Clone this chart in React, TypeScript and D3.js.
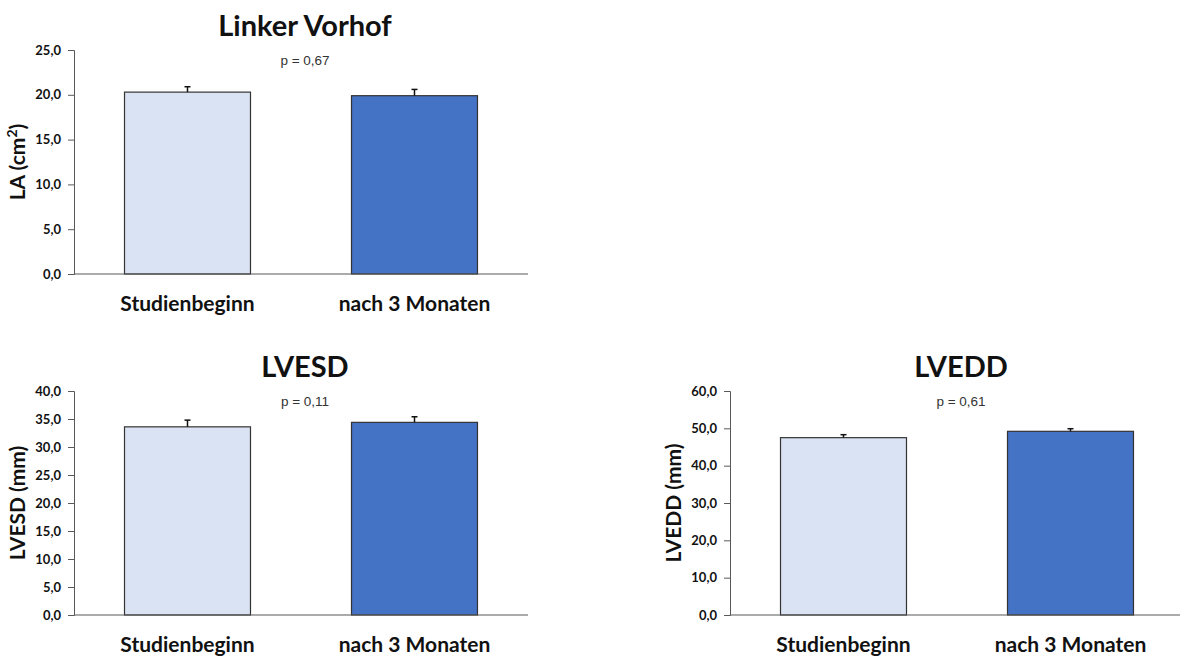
import React, { useEffect, useRef } from 'react'
import * as d3 from 'd3'

// Categories shared by all three panels
const categories = ['Studienbeginn', 'nach 3 Monaten']

// Linker Vorhof (LA)
const laValues = [20.3, 19.9]
const laErrors = [0.6, 0.7]
const laTicks = [0, 5, 10, 15, 20, 25]

// LVESD
const lvesdValues = [33.6, 34.4]
const lvesdErrors = [1.2, 1.0]
const lvesdTicks = [0, 5, 10, 15, 20, 25, 30, 35, 40]

// LVEDD
const lveddValues = [47.5, 49.2]
const lveddErrors = [0.8, 0.7]
const lveddTicks = [0, 10, 20, 30, 40, 50, 60]

const barColors = ['#DAE3F3', '#4472C4']
const font = 'Lato, "Open Sans", sans-serif'

type Panel = {
  title: string
  yLabel: string
  ySup?: string
  yTail?: string
  pText: string
  values: number[]
  errors: number[]
  ticks: number[]
  left: number
  top: number
}

const panels: Panel[] = [
  { title: 'Linker Vorhof', yLabel: 'LA (cm', ySup: '2', yTail: ')', pText: 'p = 0,67', values: laValues, errors: laErrors, ticks: laTicks, left: 74, top: 50 },
  { title: 'LVESD', yLabel: 'LVESD (mm)', pText: 'p = 0,11', values: lvesdValues, errors: lvesdErrors, ticks: lvesdTicks, left: 74, top: 391 },
  { title: 'LVEDD', yLabel: 'LVEDD (mm)', pText: 'p = 0,61', values: lveddValues, errors: lveddErrors, ticks: lveddTicks, left: 730, top: 391 },
]

const plotW = 454
const plotH = 224

const fmt = (v: number) => v.toFixed(1).replace('.', ',')

const App: React.FC = () => {
  const svgRef = useRef<SVGSVGElement | null>(null)

  useEffect(() => {
    const svg = d3.select(svgRef.current)
    svg.selectAll('*').remove()

    panels.forEach((p) => {
      const g = svg.append('g').attr('transform', `translate(${p.left},${p.top})`)

      const x = d3
        .scaleBand()
        .domain(categories)
        .range([0, plotW])
        .paddingInner(0.445)
        .paddingOuter(0.2225)

      const y = d3
        .scaleLinear()
        .domain([0, p.ticks[p.ticks.length - 1]])
        .range([plotH, 0])

      // y axis
      const yAxis = g
        .append('g')
        .call(d3.axisLeft(y).tickValues(p.ticks).tickFormat((d) => fmt(d as number)).tickSize(6).tickSizeOuter(6))
      yAxis.select('.domain').attr('stroke', '#595959')
      yAxis.selectAll('.tick line').attr('stroke', '#595959')
      yAxis
        .selectAll('.tick text')
        .attr('font-family', font)
        .attr('font-weight', 700)
        .attr('font-size', 13)
        .attr('fill', '#111')
        .attr('x', -13)

      // bars
      g.selectAll('.bar')
        .data(p.values)
        .enter()
        .append('rect')
        .attr('x', (_, i) => x(categories[i])!)
        .attr('y', (d) => y(d))
        .attr('width', x.bandwidth())
        .attr('height', (d) => plotH - y(d))
        .attr('fill', (_, i) => barColors[i])
        .attr('stroke', '#333')
        .attr('stroke-width', 1.2)

      // error bars (upper only)
      p.values.forEach((v, i) => {
        const cx = x(categories[i])! + x.bandwidth() / 2
        const yt = y(v + p.errors[i])
        g.append('line')
          .attr('x1', cx).attr('x2', cx)
          .attr('y1', y(v)).attr('y2', yt)
          .attr('stroke', '#111').attr('stroke-width', 1.5)
        g.append('line')
          .attr('x1', cx - 3).attr('x2', cx + 3)
          .attr('y1', yt).attr('y2', yt)
          .attr('stroke', '#111').attr('stroke-width', 1.5)
      })

      // baseline
      g.append('line')
        .attr('x1', 0).attr('x2', plotW)
        .attr('y1', plotH).attr('y2', plotH)
        .attr('stroke', '#595959').attr('stroke-width', 1.2)

      // category labels
      categories.forEach((c) => {
        g.append('text')
          .attr('x', x(c)! + x.bandwidth() / 2)
          .attr('y', plotH + 37)
          .attr('text-anchor', 'middle')
          .attr('font-family', font)
          .attr('font-weight', 700)
          .attr('font-size', 21)
          .attr('fill', '#111')
          .text(c)
      })

      // title
      g.append('text')
        .attr('x', plotW / 2 + 4)
        .attr('y', -14)
        .attr('text-anchor', 'middle')
        .attr('font-family', font)
        .attr('font-weight', 700)
        .attr('font-size', 29)
        .attr('fill', '#111')
        .text(p.title)

      // p value
      g.append('text')
        .attr('x', plotW / 2 + 4)
        .attr('y', 15)
        .attr('text-anchor', 'middle')
        .attr('font-family', '"Liberation Sans", Arial, sans-serif')
        .attr('font-size', 13.5)
        .attr('fill', '#333')
        .text(p.pText)

      // y label
      const yl = g.append('text')
        .attr('transform', `translate(-49,${plotH / 2}) rotate(-90)`)
        .attr('text-anchor', 'middle')
        .attr('font-family', font)
        .attr('font-weight', 700)
        .attr('font-size', 21)
        .attr('fill', '#111')
      yl.append('tspan').text(p.yLabel)
      if (p.ySup) {
        yl.append('tspan').attr('dy', -8).attr('font-size', 14).text(p.ySup)
        yl.append('tspan').attr('dy', 8).text(p.yTail ?? '')
      }
    })
  }, [])

  return (
    <svg
      ref={svgRef}
      width={1180}
      height={657}
      style={{ position: 'absolute', left: 0, top: 0, background: '#fff' }}
    />
  )
}

export default App
